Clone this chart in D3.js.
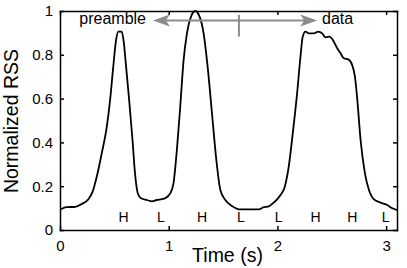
<!DOCTYPE html>
<html>
<head>
<meta charset="utf-8">
<script src="https://cdn.jsdelivr.net/npm/d3@7"></script>
<style>
  body { margin: 0; background: #fff; }
  svg { display: block; font-family: "Liberation Sans", Arial, sans-serif; }
  .axis path, .axis line { stroke: #000; stroke-width: 1.5; }
  .axis text { font-size: 15px; fill: #000; }
</style>
</head>
<body>
<svg id="chart" width="407" height="268"></svg>
<script>
// RSS trace (time in s, normalized RSS)
var time = [0.01, 0.06, 0.14, 0.20, 0.26, 0.30, 0.338, 0.384, 0.43, 0.461, 0.49, 0.516, 0.537, 0.567,
  0.584, 0.608, 0.636, 0.667, 0.69, 0.716, 0.746, 0.80, 0.845, 0.89, 0.937, 0.968, 1.014, 1.044,
  1.075, 1.106, 1.137, 1.168, 1.205, 1.244, 1.284, 1.321, 1.358, 1.398, 1.438, 1.475, 1.521, 1.582,
  1.659, 1.751, 1.828, 1.874, 1.92, 1.951, 1.997, 2.028, 2.068, 2.104, 2.141, 2.181, 2.212, 2.233,
  2.258, 2.289, 2.335, 2.375, 2.412, 2.442, 2.479, 2.519, 2.55, 2.581, 2.611, 2.652, 2.688, 2.713,
  2.735, 2.765, 2.805, 2.842, 2.888, 2.949, 3.011, 3.057, 3.10];
var rss = [0.095, 0.104, 0.106, 0.119, 0.140, 0.175, 0.243, 0.350, 0.470, 0.594, 0.746, 0.868, 0.906, 0.906,
  0.868, 0.746, 0.594, 0.411, 0.259, 0.167, 0.145, 0.137, 0.131, 0.137, 0.141, 0.145, 0.167, 0.213,
  0.365, 0.563, 0.776, 0.898, 0.974, 1.0, 0.974, 0.898, 0.746, 0.533, 0.320, 0.183, 0.137, 0.110,
  0.094, 0.094, 0.094, 0.104, 0.108, 0.119, 0.140, 0.160, 0.198, 0.289, 0.441, 0.624, 0.791, 0.883,
  0.906, 0.898, 0.898, 0.906, 0.898, 0.880, 0.883, 0.860, 0.830, 0.807, 0.784, 0.779, 0.753, 0.700,
  0.594, 0.411, 0.259, 0.183, 0.140, 0.125, 0.114, 0.099, 0.091];

// symbol labels under the trace
var symbols = ["H", "L", "H", "L", "L", "H", "H", "L"];
var symbolTimes = [0.584, 0.928, 1.306, 1.665, 2.012, 2.35, 2.688, 2.995];

var xTicks = [0, 1, 2, 3];
var yTicks = [0, 0.2, 0.4, 0.6, 0.8, 1];

// annotation: preamble <---|---> data
var arrowFrom = 0.854, arrowMid = 1.646, arrowTo = 2.366, arrowLevel = 0.957;

var margin = {left: 60, right: 10, top: 11, bottom: 38};
var width = 407, height = 268;

var svg = d3.select("#chart");

var x = d3.scaleLinear().domain([0, 3.1]).range([margin.left, width - margin.right]);
var y = d3.scaleLinear().domain([0, 1]).range([height - margin.bottom, margin.top]);

// axes (box with inward ticks)
svg.append("g").attr("class", "axis")
  .attr("transform", "translate(0," + y(0) + ")")
  .call(d3.axisBottom(x).tickValues(xTicks).tickFormat(d3.format("d"))
    .tickSizeInner(-4).tickSizeOuter(0).tickPadding(10));
svg.append("g").attr("class", "axis")
  .attr("transform", "translate(0," + y(1) + ")")
  .call(d3.axisTop(x).tickValues(xTicks).tickFormat("")
    .tickSizeInner(-4).tickSizeOuter(0));
svg.append("g").attr("class", "axis")
  .attr("transform", "translate(" + x(0) + ",0)")
  .call(d3.axisLeft(y).tickValues(yTicks).tickFormat(d3.format("~g"))
    .tickSizeInner(-4).tickSizeOuter(0).tickPadding(7));
svg.append("g").attr("class", "axis")
  .attr("transform", "translate(" + x(3.1) + ",0)")
  .call(d3.axisRight(y).tickValues(yTicks).tickFormat("")
    .tickSizeInner(-4).tickSizeOuter(0));
svg.selectAll(".axis .domain").attr("stroke-linecap", "square");

// trace
var line = d3.line()
  .x(function(d, i) {return x(time[i]);})
  .y(function(d, i) {return y(rss[i]);})
  .curve(d3.curveMonotoneX);
svg.append("path")
  .datum(rss)
  .attr("d", line)
  .attr("fill", "none")
  .attr("stroke", "#000")
  .attr("stroke-width", 1.8);

// H / L labels
svg.selectAll(".sym")
  .data(symbols)
  .enter()
  .append("text")
  .attr("class", "sym")
  .attr("x", function(d, i) {return x(symbolTimes[i]);})
  .attr("y", y(0.038))
  .attr("text-anchor", "middle")
  .attr("fill", "#000")
  .style("font-size", "14px")
  .text(function(d) {return d;});

// grey arrows
var grey = "#8c8c8c";
var ay = y(arrowLevel);
svg.append("line")
  .attr("x1", x(arrowFrom) + 10).attr("x2", x(arrowTo) - 10)
  .attr("y1", ay).attr("y2", ay)
  .attr("stroke", grey).attr("stroke-width", 2);
svg.append("line")
  .attr("x1", x(arrowMid)).attr("x2", x(arrowMid))
  .attr("y1", y(0.982)).attr("y2", y(0.883))
  .attr("stroke", grey).attr("stroke-width", 2);

function head(tip, dir)
{
  var len = 17, half = 6, notch = 4;
  return "M" + tip + "," + ay +
    "L" + (tip - dir * len) + "," + (ay - half) +
    "L" + (tip - dir * (len - notch)) + "," + ay +
    "L" + (tip - dir * len) + "," + (ay + half) + "Z";
}
svg.append("path").attr("d", head(x(arrowFrom), -1)).attr("fill", grey);
svg.append("path").attr("d", head(x(arrowTo), 1)).attr("fill", grey);

svg.append("text")
  .attr("x", x(0.791)).attr("y", y(0.94))
  .attr("text-anchor", "end")
  .style("font-size", "16px")
  .text("preamble");
svg.append("text")
  .attr("x", x(2.41)).attr("y", y(0.94))
  .style("font-size", "16px")
  .text("data");

// axis titles
svg.append("text")
  .attr("x", (x(0) + x(3.1)) / 2 - 1).attr("y", 262)
  .attr("text-anchor", "middle")
  .style("font-size", "19.5px")
  .text("Time (s)");
svg.append("text")
  .attr("transform", "translate(18," + 121 + ") rotate(-90)")
  .attr("text-anchor", "middle")
  .style("font-size", "19.5px")
  .text("Normalized RSS");
</script>
</body>
</html>
